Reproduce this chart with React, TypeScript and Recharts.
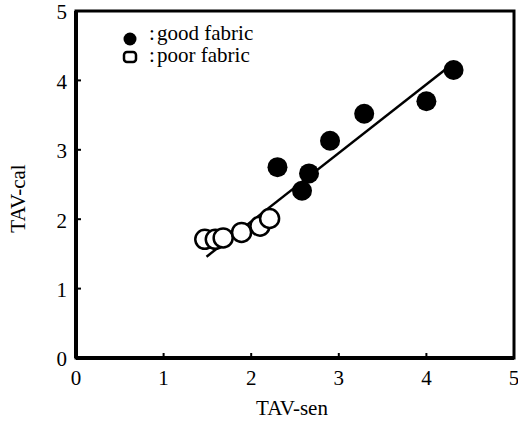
import { ScatterChart, Scatter, XAxis, YAxis, ReferenceArea, Legend } from 'recharts';

// TAV-sen vs TAV-cal for the two fabric groups
const goodSen = [2.3, 2.58, 2.66, 2.9, 3.29, 4.0, 4.31];
const goodCal = [2.75, 2.41, 2.66, 3.13, 3.52, 3.7, 4.15];

const poorSen = [1.47, 1.59, 1.68, 1.89, 2.1, 2.21];
const poorCal = [1.71, 1.71, 1.73, 1.81, 1.9, 2.01];

// end points of the fitted line
const fitSen = [1.49, 4.22];
const fitCal = [1.46, 4.16];

const axisTicks = [0, 1, 2, 3, 4, 5];

const goodData = goodSen.map((x, i) => ({ x, y: goodCal[i] }));
const poorData = poorSen.map((x, i) => ({ x, y: poorCal[i] }));
const fitData = fitSen.map((x, i) => ({ x, y: fitCal[i] }));

const FONT = '"Liberation Serif", "Times New Roman", serif';
const textStyle = { fontFamily: FONT, fontSize: 21 };
const X_GAP = 12;
const Y_GAP = 9;

function XTick({ x, y, payload }: any) {
  const axisY = y - X_GAP;
  const v = payload.value;
  return (
    <g>
      {v > 0 && v < 5 && (
        <line x1={x} x2={x} y1={axisY} y2={axisY - 5} stroke="#000" strokeWidth={2} />
      )}
      <text x={x} y={y} dy="0.71em" textAnchor="middle" style={textStyle} fill="#000">
        {v}
      </text>
    </g>
  );
}

function YTick({ x, y, payload }: any) {
  const axisX = x + Y_GAP;
  const v = payload.value;
  return (
    <g>
      {v > 0 && v < 5 && (
        <line x1={axisX} x2={axisX + 5} y1={y} y2={y} stroke="#000" strokeWidth={2} />
      )}
      <text x={x} y={y + 1} dy="0.355em" textAnchor="end" style={textStyle} fill="#000">
        {v}
      </text>
    </g>
  );
}

function YTitle({ viewBox }: any) {
  const cx = viewBox.x + 18;
  const cy = viewBox.y + viewBox.height / 2 + 14;
  return (
    <text
      x={cx}
      y={cy}
      transform={`rotate(-90 ${cx} ${cy})`}
      textAnchor="middle"
      dy="0.355em"
      style={textStyle}
      fill="#000"
    >
      TAV-cal
    </text>
  );
}

function FabricLegend() {
  return (
    <svg width={160} height={56} style={{ display: 'block', overflow: 'visible' }}>
      <circle cx={12} cy={23} r={6.5} fill="#000" />
      <rect x={6} y={36} width={12} height={10} rx={3} fill="#fff" stroke="#000" strokeWidth={2.5} />
      <g style={textStyle} fill="#000">
        <text x={31} y={24}>:</text>
        <text x={39} y={24}>good fabric</text>
        <text x={31} y={46}>:</text>
        <text x={39} y={46}>poor fabric</text>
      </g>
    </svg>
  );
}

export default function App() {
  return (
    <div style={{ position: 'absolute', left: 0, top: 0, background: '#fff', fontFamily: FONT }}>
      <ScatterChart width={518} height={421} margin={{ top: 11, right: 4, bottom: 0, left: 0 }}>
        <XAxis
          type="number"
          dataKey="x"
          domain={[0, 5]}
          ticks={axisTicks}
          height={63}
          tickSize={0}
          tickMargin={X_GAP}
          tickLine={false}
          axisLine={{ stroke: '#000', strokeWidth: 4 }}
          tick={<XTick />}
          label={{ value: 'TAV-sen', position: 'insideBottom', offset: 6, dx: -3, style: textStyle, fill: '#000' }}
        />
        <YAxis
          type="number"
          dataKey="y"
          domain={[0, 5]}
          ticks={axisTicks}
          width={76}
          tickSize={0}
          tickMargin={Y_GAP}
          tickLine={false}
          axisLine={{ stroke: '#000', strokeWidth: 4 }}
          tick={<YTick />}
          label={{ content: <YTitle /> }}
        />
        <ReferenceArea x1={0} x2={5} y1={0} y2={5} fill="none" stroke="#000" strokeWidth={3} ifOverflow="visible" />
        <Legend
          layout="horizontal"
          verticalAlign="middle"
          align="center"
          wrapperStyle={{ top: 16, left: 118, width: 'auto' }}
          content={() => <FabricLegend />}
        />
        <Scatter
          name="fit"
          data={fitData}
          line={{ stroke: '#000', strokeWidth: 2.5 }}
          shape={() => <g />}
          legendType="none"
          isAnimationActive={false}
        />
        <Scatter
          name="poor fabric"
          data={poorData}
          shape={(p: any) => <circle cx={p.cx} cy={p.cy} r={9.5} fill="#fff" stroke="#000" strokeWidth={2.5} />}
          isAnimationActive={false}
        />
        <Scatter
          name="good fabric"
          data={goodData}
          shape={(p: any) => <circle cx={p.cx} cy={p.cy} r={10} fill="#000" />}
          isAnimationActive={false}
        />
      </ScatterChart>
    </div>
  );
}
